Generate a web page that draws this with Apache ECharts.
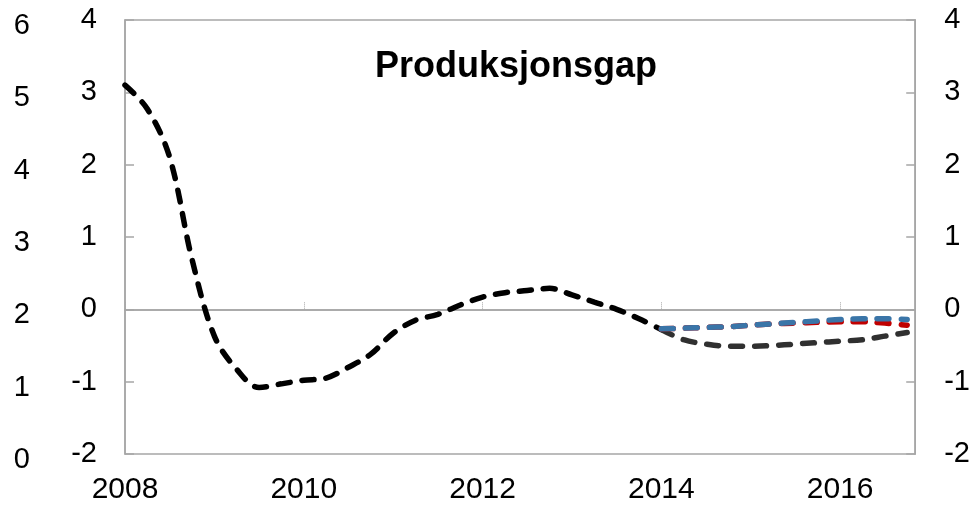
<!DOCTYPE html>
<html>
<head>
<meta charset="utf-8">
<script src="https://cdn.jsdelivr.net/npm/echarts@6/dist/echarts.min.js"></script>
<style>html,body{margin:0;padding:0;background:#fff}#c{width:973px;height:507px}</style>
</head>
<body>
<div id="c"></div>
<script>
// Periods (quarters)
var histPeriods = ['2008Q1','2008Q2','2008Q3','2008Q4','2009Q1','2009Q2','2009Q3','2009Q4',
  '2010Q1','2010Q2','2010Q3','2010Q4','2011Q1','2011Q2','2011Q3','2011Q4',
  '2012Q1','2012Q2','2012Q3','2012Q4','2013Q1','2013Q2','2013Q3','2013Q4','2014Q1'];
var histValues = [3.1, 2.77, 2.1, 0.69, -0.37, -0.83, -1.08, -1.03,
  -0.98, -0.95, -0.8, -0.62, -0.33, -0.15, -0.07, 0.06,
  0.17, 0.23, 0.26, 0.29, 0.2, 0.1, 0.0, -0.13, -0.28];

var projPeriods = ['2014Q1','2014Q2','2014Q3','2014Q4','2015Q1','2015Q2','2015Q3','2015Q4',
  '2016Q1','2016Q2','2016Q3','2016Q4'];
var projBlack = [-0.28, -0.42, -0.48, -0.51, -0.51, -0.5, -0.48, -0.46, -0.44, -0.42, -0.37, -0.32];
var projRed   = [-0.27, -0.26, -0.25, -0.24, -0.22, -0.2, -0.19, -0.18, -0.17, -0.17, -0.19, -0.22];
var projBlue  = [-0.27, -0.26, -0.25, -0.24, -0.22, -0.2, -0.18, -0.16, -0.14, -0.13, -0.13, -0.14];

var yTicksMain = [-2, 4];
var yTicksOuter = [0, 6];
var xYears = [2008, 2016.84];
var titleText = 'Produksjonsgap';

function toT(p){ var y = parseInt(p.slice(0,4),10); var q = parseInt(p.slice(5),10); return y + (q-1)/4; }
function pairs(periods, vals){ return periods.map(function(p,i){ return [toT(p), vals[i]]; }); }

var FONT = 'Liberation Sans, Arial, sans-serif';
var GRAY = '#a6a6a6';
var dash = [12, 12];

var chart = echarts.init(document.getElementById('c'), null, {renderer:'canvas'});
chart.setOption({
  animation: false,
  backgroundColor: '#fff',
  title: {
    text: titleText, left: 511, top: 44, textAlign: 'center',
    textStyle: {fontFamily: FONT, fontWeight: 'bold', fontSize: 36, color: '#000'}
  },
  grid: [
    {left: 125, right: 57, top: 20, bottom: 53, show: true, borderColor: GRAY, borderWidth: 1.5, backgroundColor: 'transparent'},
    {left: 125, right: 57, top: 26, bottom: 47, show: false}
  ],
  xAxis: [
    {type: 'value', gridIndex: 0, min: xYears[0], max: xYears[1], interval: 2,
     axisLine: {show: true, lineStyle: {color: GRAY, width: 1.5}},
     axisTick: {show: true, inside: true, length: 8, lineStyle: {color: GRAY, type: 'dotted', width: 1}},
     splitLine: {show: false},
     axisLabel: {showMaxLabel: false, margin: 21, fontFamily: FONT, fontSize: 30, color: '#000',
       formatter: function(v){ return Math.abs(v - Math.round(v)) < 1e-6 ? String(Math.round(v)) : ''; }}},
    {type: 'value', gridIndex: 1, min: 0, max: 1, show: false}
  ],
  yAxis: [
    {type: 'value', gridIndex: 0, min: yTicksMain[0], max: yTicksMain[1], interval: 1, position: 'left',
     axisLine: {show: true, lineStyle: {color: GRAY, width: 1.5}},
     axisTick: {show: true, inside: true, length: 9, lineStyle: {color: GRAY, width: 1.5}},
     splitLine: {show: false},
     axisLabel: {margin: 28, fontFamily: FONT, fontSize: 29, color: '#000'}},
    {type: 'value', gridIndex: 0, min: yTicksMain[0], max: yTicksMain[1], interval: 1, position: 'right',
     axisLine: {show: true, lineStyle: {color: GRAY, width: 1.5}},
     axisTick: {show: true, inside: true, length: 9, lineStyle: {color: GRAY, width: 1.5}},
     splitLine: {show: false},
     axisLabel: {margin: 29, fontFamily: FONT, fontSize: 29, color: '#000'}},
    {type: 'value', gridIndex: 1, min: yTicksOuter[0], max: yTicksOuter[1], interval: 1, position: 'left',
     axisLine: {show: false}, axisTick: {show: false}, splitLine: {show: false},
     axisLabel: {margin: 95, fontFamily: FONT, fontSize: 29, color: '#000'}}
  ],
  series: [
    {type: 'line', xAxisIndex: 0, yAxisIndex: 0, data: pairs(histPeriods, histValues), smooth: 0.35,
     symbol: 'none', z: 3,
     lineStyle: {color: '#000', width: 5.5, type: dash, cap: 'round'},
     markLine: {silent: true, symbol: 'none', label: {show: false}, z: 1,
       lineStyle: {color: GRAY, width: 1.5, type: 'solid'}, data: [{yAxis: 0}]}},
    {type: 'line', xAxisIndex: 0, yAxisIndex: 0, data: pairs(projPeriods, projBlack), smooth: 0.35,
     symbol: 'none', z: 3,
     lineStyle: {color: '#303030', width: 5.5, type: dash, cap: 'round'}},
    {type: 'line', xAxisIndex: 0, yAxisIndex: 0, data: pairs(projPeriods, projRed), smooth: 0.35,
     symbol: 'none', z: 4,
     lineStyle: {color: '#c00000', width: 5.5, type: dash, cap: 'round'}},
    {type: 'line', xAxisIndex: 0, yAxisIndex: 0, data: pairs(projPeriods, projBlue), smooth: 0.35,
     symbol: 'none', z: 5,
     lineStyle: {color: '#3a75a8', width: 5.5, type: dash, cap: 'round'}}
  ]
});
</script>
</body>
</html>
